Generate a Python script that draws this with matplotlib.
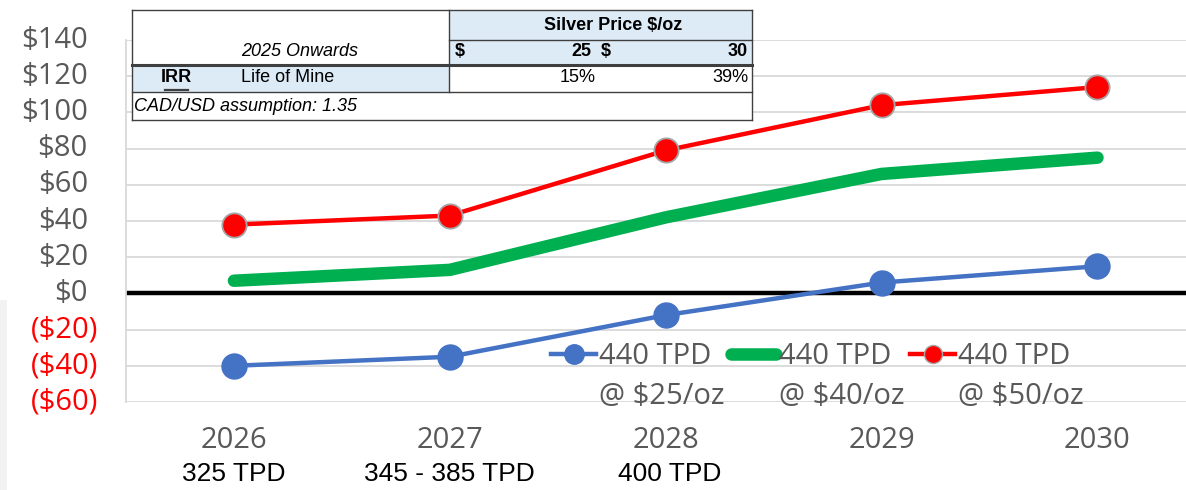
import matplotlib.pyplot as plt
from matplotlib.lines import Line2D
from matplotlib.patches import Rectangle

years = ["2026", "2027", "2028", "2029", "2030"]
tpd_notes = ["325 TPD", "345 - 385 TPD", "400 TPD", "", ""]
price_25 = [-40, -35, -12, 6, 15]
price_40 = [7, 13, 42, 66, 75]
price_50 = [38, 43, 79, 104, 114]
series_top = ["440 TPD", "440 TPD", "440 TPD"]
series_bottom = ["@ $25/oz", "@ $40/oz", "@ $50/oz"]
y_ticks = [-60, -40, -20, 0, 20, 40, 60, 80, 100, 120, 140]

W, H = 1186, 490
GRAY = "#595959"
BLUE = "#4472C4"
GREEN = "#00B050"
RED = "#FF0000"
LIGHT = "#DDEBF7"
SANS = "Open Sans"
NARROW = ["Liberation Sans Narrow", "Liberation Sans", "DejaVu Sans"]


def fx(px):
    return px / W


def fy(py):
    return 1 - py / H


fig = plt.figure(figsize=(W / 100, H / 100), dpi=100)
ax = fig.add_axes([fx(126), fy(402), fx(1186 - 126), (402 - 40) / H])

x = list(range(len(years)))
ax.plot(x, price_25, color=BLUE, lw=3.2, marker="o", ms=18, mfc=BLUE, mec=BLUE, zorder=4)
ax.plot(x, price_40, color=GREEN, lw=9, solid_capstyle="round", zorder=3)
ax.plot(x, price_50, color=RED, lw=3.2, marker="o", ms=17.5, mfc=RED, mec="#A6A6A6", mew=1.3, zorder=5)

ax.axhline(0, color="black", lw=3.2, zorder=2)

ax.set_xlim(-0.5, 4.41)
ax.set_ylim(-60, 140)
ax.set_yticks(y_ticks)
ax.set_yticklabels([])
ax.tick_params(axis="y", length=0)
ax.grid(axis="y", color="#D9D9D9", lw=1.3)
ax.set_axisbelow(True)
for s in ["top", "right", "bottom"]:
    ax.spines[s].set_visible(False)
ax.spines["left"].set_color("#D9D9D9")
ax.spines["left"].set_linewidth(1.3)

# y labels, accounting-style
ytrans = ax.get_yaxis_transform()
for v in y_ticks:
    if v < 0:
        ax.text(-0.0265, v, f"(${-v})", transform=ytrans, ha="right", va="center",
                color=RED, fontsize=21, family=SANS, clip_on=False)
    else:
        ax.text(-0.036, v, f"${v}", transform=ytrans, ha="right", va="center",
                color=GRAY, fontsize=21, family=SANS, clip_on=False)

ax.set_xticks(x)
ax.set_xticklabels([])
ax.tick_params(axis="x", length=0)
xtrans = ax.get_xaxis_transform()
for i, (yr, note) in enumerate(zip(years, tpd_notes)):
    ax.text(i, -0.105, yr, transform=xtrans, ha="center", va="center",
            color=GRAY, fontsize=21, family=SANS, clip_on=False)
    if note:
        ax.text(i + (0.02 if i == 2 else 0), -0.2, note, transform=xtrans, ha="center", va="center",
                color="black", fontsize=19, family=NARROW, clip_on=False)

handles = [
    Line2D([], [], color=BLUE, lw=3.2, marker="o", ms=14, mfc=BLUE, mec=BLUE),
    Line2D([], [], color=GREEN, lw=9, solid_capstyle="round"),
    Line2D([], [], color=RED, lw=3.2, marker="o", ms=13, mfc=RED, mec="#A6A6A6"),
]
leg = ax.legend(handles, series_top, ncol=3, frameon=False, loc="center left",
                bbox_to_anchor=(fx(551), fy(357)), bbox_transform=fig.transFigure,
                handlelength=1.55, handletextpad=0.1, columnspacing=0.66,
                borderpad=0, borderaxespad=0,
                prop={"family": SANS, "size": 21})
for t in leg.get_texts():
    t.set_color(GRAY)

# second line of each legend label, under its first line
fig.canvas.draw()
for t, sub in zip(leg.get_texts(), series_bottom):
    bb = t.get_window_extent()
    fig.text(bb.x0 / W, fy(397), sub, ha="left", va="center",
             color=GRAY, fontsize=21, family=SANS)

# table in the top-left corner
def rect(x0, y0, x1, y1, color):
    fig.patches.append(Rectangle((fx(x0), fy(y1)), fx(x1 - x0), (y1 - y0) / H,
                                 transform=fig.transFigure, facecolor=color,
                                 edgecolor="none", zorder=10))


def hline(y, x0, x1, lw=1.0):
    fig.add_artist(Line2D([fx(x0), fx(x1)], [fy(y), fy(y)], color="#3F3F3F", lw=lw,
                          transform=fig.transFigure, zorder=11))


def vline(xp, y0, y1, lw=1.0):
    fig.add_artist(Line2D([fx(xp), fx(xp)], [fy(y0), fy(y1)], color="#3F3F3F", lw=lw,
                          transform=fig.transFigure, zorder=11))


def ftext(xp, yp, s, ha="left", **kw):
    fig.text(fx(xp), fy(yp), s, ha=ha, va="center", family=NARROW, fontsize=13,
             color="black", zorder=12, **kw)


rect(132, 10, 752, 120, "white")
rect(449, 10, 752, 65, LIGHT)
rect(132, 65, 449, 92, LIGHT)
hline(10, 132, 752)
hline(120, 132, 752)
hline(40, 449, 752)
hline(65, 132, 752, lw=2.2)
hline(92, 132, 752)
vline(132, 10, 120)
vline(752, 10, 120)
vline(449, 10, 92)

ftext(613, 25, "Silver Price $/oz", ha="center", weight="bold")
ftext(300, 52, "2025 Onwards", ha="center", style="italic")
ftext(455, 52, "$", weight="bold")
ftext(591, 52, "25", ha="right", weight="bold")
ftext(601, 52, "$", weight="bold")
ftext(748, 52, "30", ha="right", weight="bold")
ftext(176, 78, "IRR", ha="center", weight="bold")
hline(90, 165, 188, lw=1.6)
ftext(241, 78, "Life of Mine")
ftext(596, 78, "15%", ha="right")
ftext(748, 78, "39%", ha="right")
ftext(134, 106, "CAD/USD assumption: 1.35", style="italic")

# light strip at left edge
rect(0, 300, 7, 490, "#F2F2F2")

fig.savefig("out.png", dpi=100)
